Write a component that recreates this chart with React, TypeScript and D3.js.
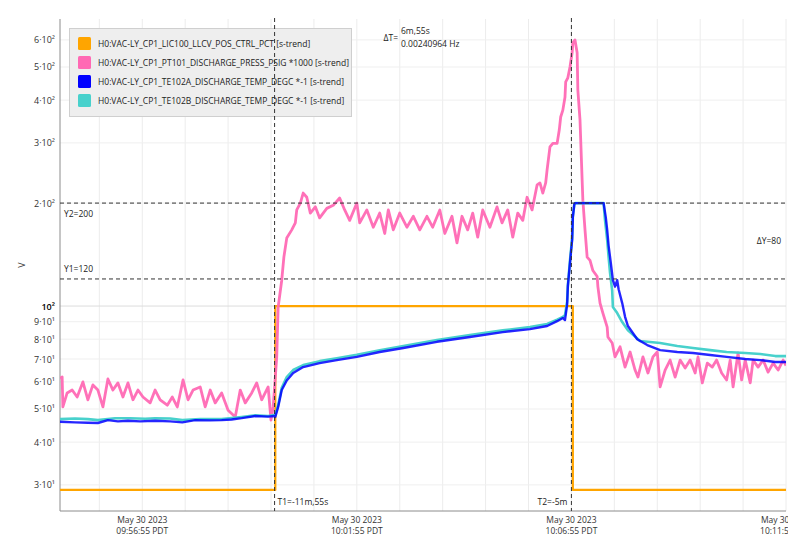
import * as d3 from 'd3';

// seconds after 09:55:00 PDT, May 30 2023
const T0 = new Date(2023, 4, 30, 9, 55, 0).getTime();
const END_S = 1015;

const orangeTimes = [0, 301, 717, END_S];
const orangeValues = [29, 100, 29, 29];

const pinkTimes = [
  0, 3, 4, 10, 17, 24, 32, 39, 46, 53, 60, 67, 74, 81, 88, 95, 102, 109, 116, 126, 133, 140, 150, 157, 164, 172,
  179, 186, 196, 203, 210, 217, 226, 235, 245, 252, 259, 268, 275, 282, 291, 295, 298, 303, 305, 310, 313, 317,
  324, 329, 331, 336, 340, 345, 350, 357, 363, 373, 382, 391, 398, 405, 415, 419, 429, 438, 447, 454, 459, 466,
  475, 485, 494, 503, 513, 521, 531, 538, 548, 555, 562, 570, 577, 584, 591, 601, 611, 618, 626, 633, 640, 647,
  653, 660, 667, 671, 675, 679, 681, 685, 689, 695, 698, 700, 703, 706, 707, 710, 713, 716, 717, 720, 723, 724,
  727, 730, 731, 734, 737, 741, 745, 751, 752, 755, 759, 765, 766, 772, 776, 783, 790, 797, 804, 808, 815, 822,
  829, 835, 839, 846, 853, 860, 867, 874, 881, 888, 892, 898, 905, 912, 918, 925, 932, 937, 941, 948, 953, 958,
  965, 969, 976, 983, 990, 997, 1004, 1011, 1015,
];
const pinkValues = [
  61.5, 62.0, 50.7, 55.7, 56.8, 54.2, 60.0, 53.2, 58.8, 56.8, 50.7, 61.2, 56.8, 59.6, 54.2, 59.6, 53.2, 56.8, 54.2,
  52.1, 56.8, 53.2, 51.3, 54.2, 50.7, 60.8, 53.2, 56.8, 58.0, 50.7, 56.8, 52.1, 55.7, 49.6, 47.4, 56.8, 52.1, 55.7,
  59.6, 53.2, 58.0, 46.4, 50.7, 70.9, 99.3, 119, 139, 158, 167, 175, 191, 200, 214, 208, 187, 195, 181, 193, 197,
  207, 191, 178, 200, 175, 191, 170, 187, 163, 191, 167, 187, 170, 183, 167, 183, 170, 191, 163, 183, 153, 183, 167,
  187, 159, 191, 170, 195, 175, 191, 159, 187, 178, 208, 191, 226, 229, 214, 229, 250, 292, 299, 299, 327, 357, 374,
  408, 452, 465, 500, 550, 588, 600, 550, 428, 350, 233, 204, 167, 139, 136, 127, 122, 114, 102, 95.4, 86.8, 81.2,
  78, 71, 76, 66.3, 73.4, 65, 62, 71, 63.7, 71, 73.4, 58, 65, 69.5, 62, 69.5, 65.9, 69.5, 63.7, 71, 59.6, 68.1,
  66.3, 69.5, 63.7, 60.8, 69.5, 58, 72.9, 60.8, 69.5, 59.6, 69.5, 66.3, 69.5, 64.1, 68.1, 65, 69.5, 67,
];

const blueTimes = [
  0, 21, 39, 53, 67, 81, 95, 112, 133, 154, 171, 189, 210, 226, 240, 254, 273, 291, 299, 301, 305, 310, 317, 326,
  340, 363, 387, 415, 447, 480, 527, 573, 619, 657, 681, 695, 703, 706, 709, 710, 713, 716, 717, 719, 720, 760, 763,
  765, 767, 770, 773, 776, 779, 781, 786, 790, 794, 807, 821, 839, 863, 885, 909, 932, 958, 979, 1000, 1015,
];
const blueValues = [
  45.9, 45.7, 45.6, 45.5, 46.4, 46.0, 46.2, 46.0, 46.2, 46.0, 45.7, 46.4, 46.3, 46.4, 46.6, 47.0, 47.7, 47.5, 47.7,
  47.4, 50.7, 56.8, 60.6, 63.7, 66.3, 68.1, 69.5, 71.0, 73.4, 75.4, 78.6, 81.2, 83.9, 85.6, 87.4, 90.3, 92.3, 91.0,
  101, 114, 134, 156, 182, 198, 200, 200, 182, 167, 150, 134, 119, 114, 119, 112, 102, 93, 87.4, 80.0, 76.9, 74.3,
  73.4, 72.9, 71.9, 71.0, 70.0, 69.5, 68.6, 68.6,
];

const cyanTimes = [
  0, 21, 39, 53, 77, 98, 119, 133, 154, 171, 196, 226, 254, 273, 291, 299, 301, 305, 310, 317, 326, 340, 363, 387,
  415, 447, 480, 527, 573, 619, 657, 681, 695, 703, 706, 709, 710, 713, 716, 717, 719, 720, 760, 762, 765, 767, 769,
  772, 773, 779, 786, 794, 811, 839, 863, 885, 909, 932, 958, 979, 1000, 1015,
];
const cyanValues = [
  46.7, 46.9, 46.7, 46.4, 47.0, 47.0, 46.8, 47.0, 46.9, 46.4, 46.7, 46.7, 47.4, 47.9, 47.7, 48.0, 48.0, 51.3, 57.7,
  62.0, 65.0, 67.2, 69.0, 70.4, 72.0, 74.3, 76.4, 79.5, 82.3, 84.9, 86.8, 88.6, 91.2, 93.0, 94, 103, 115, 136, 158,
  183, 198, 200, 200, 178, 156, 139, 125, 111, 99.3, 95.4, 89.8, 84.9, 79.0, 78.0, 76.4, 75.4, 74.3, 73.4, 72.9,
  72.4, 71.4, 71.4,
];

const legendLabels = [
  'H0:VAC-LY_CP1_LIC100_LLCV_POS_CTRL_PCT [s-trend]',
  'H0:VAC-LY_CP1_PT101_DISCHARGE_PRESS_PSIG *1000 [s-trend]',
  'H0:VAC-LY_CP1_TE102A_DISCHARGE_TEMP_DEGC *-1 [s-trend]',
  'H0:VAC-LY_CP1_TE102B_DISCHARGE_TEMP_DEGC *-1 [s-trend]',
];
const seriesColors = ['#ffa500', '#ff69b4', '#0000ff', '#48d1cc'];

const yTickValues = [30, 40, 50, 60, 70, 80, 90, 100, 200, 300, 400, 500, 600];
const yTickMant = ['3', '4', '5', '6', '7', '8', '9', '', '2', '3', '4', '5', '6'];
const yTickExp = ['¹', '¹', '¹', '¹', '¹', '¹', '¹', '²', '²', '²', '²', '²', '²'];

const xTickSeconds = [115, 415, 715, 1015]; // 09:56:55 ... 10:11:55
const cursorT1 = 300;
const cursorT2 = 715;
const cursorY1 = 120;
const cursorY2 = 200;

// the chart canvas ends just past the plot, so the last time label is cut
const W = 788;
const H = 551;
const PLOT = { left: 60, right: 786, top: 19, bottom: 511 };
const FONT = '"Open Sans", "Noto Sans", sans-serif';

const toDate = (s: number) => new Date(T0 + s * 1000);

export default function App() {
  const x = d3.scaleTime().domain([toDate(0), toDate(END_S)]).range([PLOT.left, PLOT.right]);
  const y = d3.scaleLog().domain([25.16, 690.7]).range([PLOT.bottom, PLOT.top]);

  const line = d3
    .line<[number, number]>()
    .x((d) => x(toDate(d[0])))
    .y((d) => y(d[1]));
  const stepLine = d3
    .line<[number, number]>()
    .x((d) => x(toDate(d[0])))
    .y((d) => y(d[1]))
    .curve(d3.curveStepAfter);

  const zip = (ts: number[], vs: number[]) => ts.map((t, i) => [t, vs[i]] as [number, number]);

  const minuteGrid = d3.range(55, END_S + 1, 60);
  const fmtDay = d3.timeFormat('%b %d %Y');
  const fmtTime = d3.timeFormat('%H:%M:%S');

  const xT1 = x(toDate(cursorT1));
  const xT2 = x(toDate(cursorT2));
  const yY1 = y(cursorY1);
  const yY2 = y(cursorY2);

  return (
    <svg
      width={W}
      height={H}
      style={{ position: 'absolute', left: 0, top: 0, background: '#fff', overflow: 'hidden' }}
      fontFamily={FONT}
    >
      <defs>
        <clipPath id="plot">
          <rect x={PLOT.left} y={PLOT.top - 2} width={PLOT.right - PLOT.left} height={PLOT.bottom - PLOT.top + 2} />
        </clipPath>
      </defs>

      {/* grid */}
      {minuteGrid.map((s) => (
        <line key={'gx' + s} x1={x(toDate(s))} x2={x(toDate(s))} y1={PLOT.top} y2={PLOT.bottom} stroke="#ececec" />
      ))}
      {yTickValues.map((v) => (
        <line
          key={'gy' + v}
          x1={PLOT.left}
          x2={PLOT.right}
          y1={y(v)}
          y2={y(v)}
          stroke={v === 100 ? '#dcdcdc' : '#efefef'}
        />
      ))}

      {/* axes */}
      <line x1={PLOT.left} x2={PLOT.left} y1={PLOT.top} y2={PLOT.bottom} stroke="#8c8c8c" />
      <line x1={PLOT.left} x2={PLOT.right} y1={PLOT.bottom} y2={PLOT.bottom} stroke="#8c8c8c" />

      {yTickValues.map((v, i) => (
        <text
          key={'yl' + v}
          x={55}
          y={y(v) + 3.5}
          textAnchor="end"
          fontSize={9}
          fill={v === 100 ? '#000' : '#333'}
          fontWeight={v === 100 ? 600 : 400}
        >
          {yTickMant[i] ? yTickMant[i] + '·10' + yTickExp[i] : '10' + yTickExp[i]}
        </text>
      ))}
      <text transform={`translate(25,${265}) rotate(-90)`} textAnchor="middle" fontSize={9} fill="#333">
        V
      </text>

      {xTickSeconds.map((s) => (
        <g key={'xl' + s} transform={`translate(${x(toDate(s))},0)`} fontSize={8.5} fill="#333" textAnchor="middle">
          <text y={523}>{fmtDay(toDate(s))}</text>
          <text y={534}>{fmtTime(toDate(s)) + ' PDT'}</text>
        </g>
      ))}

      {/* series */}
      <g clipPath="url(#plot)" fill="none" strokeLinejoin="round">
        <path d={stepLine(zip(orangeTimes, orangeValues)) ?? ''} stroke={seriesColors[0]} strokeWidth={2.2} />
        <path d={line(zip(pinkTimes, pinkValues)) ?? ''} stroke={seriesColors[1]} strokeWidth={2.8} strokeOpacity={0.95} />
        <path d={line(zip(cyanTimes, cyanValues)) ?? ''} stroke={seriesColors[3]} strokeWidth={2.6} />
        <path d={line(zip(blueTimes, blueValues)) ?? ''} stroke={seriesColors[2]} strokeWidth={2.4} strokeOpacity={0.85} />
      </g>

      {/* legend */}
      <g>
        <rect x={69.5} y={28.5} width={282} height={88} fill="#eeeeee" stroke="#cfcfcf" />
        {legendLabels.map((label, i) => (
          <g key={label} transform={`translate(78,${43.5 + i * 19})`}>
            <rect x={0} y={-6.5} width={13} height={13} rx={1.5} fill={seriesColors[i]} />
            <text x={20} y={3} fontSize={8.5} fill="#222">
              {label}
            </text>
          </g>
        ))}
      </g>

      {/* cursors */}
      <g stroke="#333" strokeDasharray="4,3" strokeWidth={1}>
        <line x1={xT1} x2={xT1} y1={PLOT.top - 1} y2={PLOT.bottom} />
        <line x1={xT2} x2={xT2} y1={PLOT.top - 1} y2={PLOT.bottom} />
        <line x1={PLOT.left} x2={PLOT.right} y1={yY1} y2={yY1} />
        <line x1={PLOT.left} x2={PLOT.right} y1={yY2} y2={yY2} />
      </g>
      <g fontSize={8.5} fill="#222">
        <text x={xT1 + 3} y={505}>{`T1=-11m,55s`}</text>
        <text x={xT2 - 4} y={505} textAnchor="end">{`T2=-5m`}</text>
        <text x={64} y={yY2 + 14}>{`Y2=${cursorY2}`}</text>
        <text x={64} y={yY1 - 7}>{`Y1=${cursorY1}`}</text>
        <text x={781} y={(yY1 + yY2) / 2 + 3} textAnchor="end">{`ΔY=${cursorY2 - cursorY1}`}</text>
        <text x={398} y={41} textAnchor="end">ΔT=</text>
        <text x={401} y={34}>6m,55s</text>
        <text x={401} y={47}>{(1 / (cursorT2 - cursorT1)).toFixed(8) + ' Hz'}</text>
      </g>
    </svg>
  );
}
